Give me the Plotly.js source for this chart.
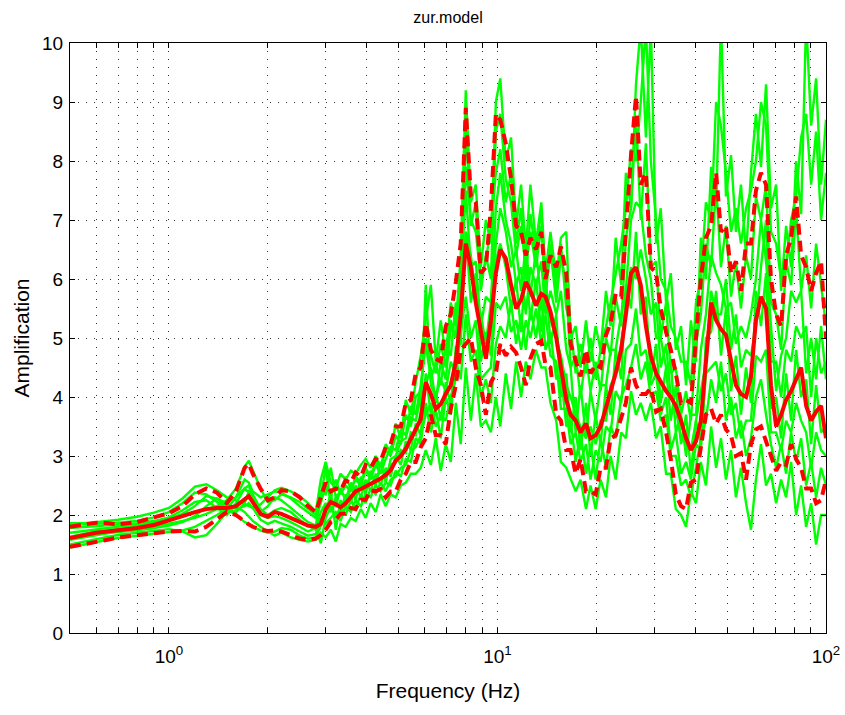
<!DOCTYPE html>
<html>
<head>
<meta charset="utf-8">
<script src="https://cdn.plot.ly/plotly-3.0.1.min.js"></script>
<style>html,body{margin:0;padding:0;background:#fff;}#chart{width:845px;height:715px;}</style>
</head>
<body>
<div id="chart"></div>
<script>
// Frequency (Hz)
const freq = [0.5,0.55,0.6,0.65,0.7,0.8,0.9,1.0,1.1,1.2,1.3,1.4,1.5,1.6,1.7,1.75,1.8,1.9,2.0,2.1,2.2,2.35,2.5,2.65,2.8,2.9,
3.00,3.11,3.22,3.33,3.45,3.58,3.70,3.84,3.97,4.11,
4.26,4.41,4.57,4.73,4.90,5.08,5.26,5.45,5.64,5.84,
6.05,6.27,6.49,6.72,6.96,7.21,7.47,7.73,8.01,8.30,
8.59,8.90,9.22,9.55,9.89,10.2,10.6,11.0,11.4,11.8,
12.2,12.6,13.1,13.6,14.0,14.5,15.1,15.6,16.2,16.7,
17.3,17.9,18.6,19.2,19.9,20.6,21.4,22.1,22.9,23.8,
24.6,25.5,26.4,27.3,28.3,29.3,30.4,31.4,32.6,33.7,
34.9,36.2,37.5,38.8,40.2,41.6,43.1,44.7,46.3,47.9,
49.6,51.4,53.2,55.1,57.1,59.1,61.2,63.4,65.7,68.0,
70.5,73.0,75.6,78.3,81.1,84.0,87.0,90.1,93.3,96.6,100];

// Green: individual amplification curves
const g1 = [1.86,1.86,1.88,1.90,1.92,1.97,2.04,2.12,2.28,2.48,2.52,2.42,2.30,2.25,2.18,2.15,2.12,2.18,2.30,2.42,2.46,2.40,2.32,2.20,2.05,2.60,
2.90,2.55,2.45,2.70,2.60,2.75,2.70,2.85,2.95,2.80,
3.00,2.80,3.20,3.05,3.55,3.30,3.95,3.70,4.25,4.70,
5.30,5.90,4.60,5.30,4.70,5.60,5.20,6.40,9.20,7.30,
7.60,6.20,7.00,6.60,9.00,9.40,8.00,8.40,6.90,7.60,
6.50,7.60,6.60,7.30,6.10,6.80,6.00,6.70,6.80,5.00,
5.20,4.50,5.30,4.60,5.20,4.80,5.80,5.20,6.70,5.90,
7.80,7.20,9.30,10.3,8.40,10.3,6.60,7.20,5.60,6.10,
4.80,5.20,4.20,5.30,4.60,6.70,6.00,7.90,7.20,10.4,
7.40,8.10,6.80,7.60,6.40,7.80,8.80,7.90,9.30,7.20,
7.60,5.80,6.90,6.20,8.00,7.10,10.4,8.60,9.40,7.60,8.70];

const g2 = [1.78,1.80,1.82,1.83,1.84,1.86,1.90,1.95,2.00,2.05,2.10,2.15,2.25,2.45,2.82,2.92,2.75,2.45,2.22,2.25,2.35,2.30,2.22,2.10,2.00,2.40,
2.35,2.80,2.30,2.40,2.65,2.45,2.60,2.50,2.75,2.60,
2.85,2.70,2.95,3.15,3.10,3.45,3.35,3.85,3.70,4.20,
4.90,4.30,4.60,4.20,4.90,4.70,5.60,5.30,8.60,6.90,
7.30,5.80,6.40,6.00,8.50,8.80,7.70,7.30,6.40,6.90,
6.20,6.80,6.20,6.90,5.70,6.50,5.60,6.40,5.90,4.50,
4.70,4.00,4.70,4.10,4.60,4.10,5.00,4.70,5.70,5.20,
6.70,7.20,8.70,7.00,8.30,6.20,6.30,5.00,5.60,4.40,
4.50,3.70,4.10,3.60,4.90,5.40,6.60,6.20,7.60,6.20,
6.90,5.70,6.30,5.50,6.40,6.00,7.40,7.00,7.60,5.60,
5.40,4.80,6.30,5.90,7.20,5.80,6.40,5.50,6.60,5.90,5.20];

const g3 = [1.63,1.68,1.72,1.74,1.76,1.80,1.86,1.92,2.02,2.15,2.32,2.28,2.12,2.05,2.20,2.40,2.35,2.10,2.00,2.08,2.12,2.05,1.92,1.82,1.75,2.05,
2.20,2.05,2.30,2.05,2.35,2.20,2.50,2.30,2.60,2.40,
2.70,2.50,2.80,2.65,3.00,2.85,3.25,3.10,3.55,3.35,
4.40,3.70,4.10,3.60,4.25,3.85,4.85,4.90,6.80,5.60,
6.10,4.60,5.10,4.70,6.30,6.60,6.20,5.50,6.00,5.10,
6.30,5.30,6.00,5.10,6.10,4.90,5.40,4.00,4.40,3.40,
4.00,3.10,3.90,3.00,3.70,3.20,4.20,3.70,4.80,4.30,
5.90,5.50,6.80,5.40,5.70,4.30,4.90,3.90,4.50,3.60,
4.20,3.20,3.70,2.70,3.60,3.20,5.00,5.10,5.80,4.70,
5.50,4.10,4.70,3.70,4.50,3.90,5.80,5.20,6.10,3.80,
4.00,3.30,4.40,3.60,4.80,4.00,4.30,3.20,4.20,3.40,3.50];

const g4 = [1.60,1.64,1.68,1.71,1.73,1.76,1.80,1.85,1.90,1.95,2.02,2.10,2.20,2.30,2.45,2.50,2.30,2.00,1.95,1.98,1.95,1.88,1.80,1.72,1.78,1.52,
1.95,2.15,1.95,2.15,2.00,2.25,2.10,2.35,2.20,2.45,
2.35,2.55,2.40,2.60,2.65,2.80,2.85,3.10,3.15,3.35,
3.70,3.90,3.50,3.70,3.60,4.00,4.30,5.10,5.70,5.00,
5.30,4.30,4.40,4.50,5.60,5.50,5.70,5.10,5.30,4.80,
5.30,5.00,5.50,4.90,5.40,4.70,4.60,3.80,3.80,3.20,
3.40,2.90,3.20,2.60,3.10,2.90,3.50,3.40,4.10,3.90,
4.80,4.90,5.50,4.70,4.80,4.20,4.40,3.70,4.00,3.10,
3.40,2.70,2.90,2.60,3.20,3.10,4.40,4.50,4.60,4.10,
4.40,3.70,3.90,3.30,3.60,3.60,4.70,4.60,4.80,3.40,
3.40,3.10,3.60,3.40,3.90,3.60,3.40,2.80,3.40,3.10,3.00];

const g5 = [1.50,1.55,1.60,1.63,1.66,1.70,1.73,1.76,1.72,1.62,1.66,1.85,2.05,2.15,2.05,1.98,1.90,1.80,1.72,1.65,1.70,1.62,1.58,1.55,1.58,1.70,
1.62,1.75,1.55,1.85,1.80,1.95,1.90,2.10,1.95,2.20,
2.05,2.35,2.15,2.35,2.30,2.50,2.55,2.70,2.70,2.80,
3.10,2.85,3.30,2.75,3.20,2.90,3.90,3.20,4.50,3.60,
4.40,3.50,3.60,3.40,4.00,3.50,4.40,3.80,4.60,4.00,
4.60,4.30,4.80,4.50,4.50,3.90,3.60,2.90,2.80,2.60,
2.40,2.60,2.10,2.50,2.10,2.60,2.30,3.00,2.60,3.40,
3.30,4.10,3.70,3.90,3.60,3.90,3.30,3.50,2.70,2.70,
2.10,2.00,1.80,2.40,2.20,2.90,2.50,3.50,2.80,3.30,
2.60,3.10,2.30,2.80,2.20,1.75,2.60,3.20,2.50,2.70,
2.20,2.60,2.30,2.90,2.00,2.50,1.80,2.20,1.50,2.00,2.00];

const g6 = [1.45,1.50,1.55,1.58,1.61,1.65,1.69,1.71,1.74,1.80,1.90,2.00,2.10,2.00,1.88,1.85,1.80,1.74,1.70,1.72,1.78,1.75,1.65,1.60,1.62,1.80,
2.00,2.40,1.75,2.25,2.10,2.50,2.25,2.65,2.35,2.75,
2.50,2.90,2.55,2.95,3.00,3.25,3.30,3.65,3.60,4.00,
4.20,4.50,3.90,4.60,4.30,5.20,5.00,6.00,7.50,6.20,
6.30,5.20,5.70,5.60,7.20,7.80,7.00,6.60,5.90,6.20,
5.40,6.20,5.90,6.30,5.40,5.80,5.40,5.80,4.80,4.50,
3.40,4.20,3.30,4.10,3.60,4.20,4.20,4.80,4.80,5.40,
5.80,7.00,7.30,7.20,6.40,6.00,5.00,5.00,4.50,4.60,
3.40,3.70,3.00,3.70,3.70,4.80,5.40,6.40,6.10,5.90,
5.50,5.60,4.90,5.20,5.00,5.40,6.00,7.00,6.30,5.20,
4.10,4.70,5.00,5.80,5.60,5.80,4.40,5.00,4.30,5.20,4.30];

const g7 = [1.83,1.84,1.85,1.86,1.87,1.90,1.96,2.05,2.20,2.38,2.35,2.22,2.10,2.30,2.60,2.55,2.40,2.30,2.35,2.40,2.38,2.28,2.15,2.05,1.95,2.20,
2.50,2.30,2.60,2.35,2.50,2.40,2.65,2.55,2.80,2.65,
2.90,2.80,3.10,3.00,3.35,3.20,3.70,3.50,4.00,4.10,
5.00,4.70,4.40,4.90,4.50,5.30,5.00,5.90,7.90,7.00,
6.80,6.00,6.30,6.90,7.80,8.20,7.30,7.80,6.60,7.20,
6.00,7.10,6.40,7.20,5.90,6.60,5.80,6.60,5.50,5.20,
4.40,4.90,4.40,5.00,4.30,4.80,5.20,5.60,6.10,6.60,
7.20,8.20,8.00,9.00,10.3,8.00,7.00,6.00,5.80,5.20,
5.00,4.60,4.60,4.20,5.60,6.00,7.30,7.00,9.00,8.60,
7.80,6.80,7.20,6.60,7.20,7.50,8.00,9.00,8.60,6.80,
6.60,6.00,6.20,7.00,7.40,8.40,8.80,7.60,8.50,7.00,7.80];

const g8 = [1.58,1.62,1.66,1.69,1.71,1.74,1.78,1.82,1.88,1.98,2.15,2.28,2.20,2.10,2.15,2.20,2.12,1.92,1.85,1.90,1.86,1.80,1.72,1.65,1.68,1.95,
1.85,1.95,2.05,1.90,2.15,2.05,2.25,2.15,2.35,2.30,
2.50,2.40,2.55,2.50,2.75,2.65,2.95,2.90,3.30,3.20,
3.90,3.40,3.80,3.30,4.00,3.70,4.60,4.30,5.40,4.60,
4.80,4.00,4.30,3.90,4.90,5.20,5.00,5.60,4.90,5.40,
4.80,5.50,5.00,5.70,4.80,5.10,4.30,4.40,3.50,3.60,
2.90,3.40,2.70,3.20,2.60,3.30,2.80,3.50,3.30,4.00,
4.20,4.50,4.90,4.30,4.60,4.00,4.10,3.60,3.70,3.00,
3.00,2.50,2.60,2.30,2.80,3.30,3.60,4.30,3.90,4.60,
3.60,4.00,3.30,3.60,3.00,3.30,4.00,4.30,3.70,3.20,
2.80,3.20,2.70,3.40,2.90,3.30,2.50,2.90,2.30,2.80,2.50];

const g9 = [1.70,1.73,1.76,1.78,1.80,1.83,1.88,1.96,2.08,2.22,2.25,2.12,2.00,2.20,2.45,2.38,2.20,2.05,2.15,2.30,2.25,2.12,2.00,1.88,1.82,2.30,
2.80,2.20,2.15,2.45,2.25,2.55,2.35,2.50,2.45,2.65,
2.60,2.75,2.70,2.85,2.90,3.10,3.05,3.40,3.35,3.75,
5.90,4.20,4.00,4.30,4.10,4.60,4.40,5.50,6.80,6.40,
5.70,5.40,4.90,5.60,6.60,7.20,6.80,6.20,6.50,5.80,
6.60,5.70,6.50,5.60,5.80,5.30,5.00,4.70,4.20,4.00,
3.70,3.50,3.30,3.50,3.20,3.60,3.60,4.20,4.40,4.90,
5.50,6.20,6.00,6.50,6.00,5.40,5.60,4.50,4.90,4.00,
3.80,3.30,3.20,3.10,3.60,4.10,4.60,5.80,5.40,5.40,
6.00,4.80,5.40,4.50,4.80,4.70,5.20,6.20,7.00,4.60,
4.60,4.00,4.80,4.60,5.20,5.00,5.20,4.00,5.00,4.40,4.60];

// Red: upper (dashed), median (solid), lower (dashed)
const upper = [1.80,1.84,1.87,1.86,1.84,1.88,1.95,2.03,2.15,2.35,2.45,2.38,2.20,2.40,2.80,2.87,2.70,2.45,2.25,2.30,2.42,2.40,2.30,2.15,2.05,2.30,
2.55,2.40,2.45,2.42,2.58,2.55,2.72,2.65,2.85,2.80,
2.95,2.92,3.15,3.20,3.50,3.50,3.90,3.95,4.40,4.50,
5.25,4.80,4.65,4.60,5.20,5.40,5.95,6.60,8.90,7.40,
7.30,6.10,6.20,7.20,8.80,8.70,8.30,7.70,6.90,6.80,
6.40,6.70,6.50,6.80,6.00,6.40,6.20,6.55,6.10,4.90,
4.60,4.35,4.80,4.40,4.55,4.50,5.05,5.25,5.75,5.70,
6.80,8.10,9.10,7.60,7.80,6.20,6.10,5.50,5.10,4.80,
4.40,3.90,3.95,3.90,5.00,6.00,6.70,6.90,7.80,6.80,
6.90,6.10,6.30,5.80,6.60,6.60,7.50,7.80,7.60,6.00,
5.40,5.20,6.40,6.70,7.40,6.40,6.20,5.80,6.10,6.30,5.00];

const median = [1.61,1.66,1.70,1.72,1.74,1.78,1.83,1.90,1.98,2.05,2.10,2.12,2.12,2.15,2.28,2.32,2.22,2.02,1.97,2.05,2.02,1.95,1.88,1.82,1.80,1.85,
2.10,2.22,2.18,2.13,2.20,2.30,2.40,2.44,2.48,2.52,
2.58,2.62,2.68,2.76,2.92,3.00,3.12,3.28,3.45,3.62,
4.25,4.05,3.80,3.88,4.05,4.20,4.60,5.40,6.60,6.20,
5.60,5.10,4.65,5.30,6.10,6.50,6.35,5.90,5.50,5.65,
5.95,5.80,5.55,5.75,5.70,5.45,5.00,4.50,3.95,3.70,
3.60,3.40,3.55,3.30,3.35,3.50,3.80,4.10,4.40,4.80,
5.40,6.10,6.20,5.90,5.20,4.70,4.40,4.25,4.10,4.00,
3.85,3.60,3.30,3.10,3.25,3.60,4.60,5.60,5.30,5.15,
5.05,4.60,4.20,4.05,4.00,4.35,5.30,5.70,5.50,4.20,
3.50,3.70,3.95,4.10,4.30,4.50,3.85,3.60,3.75,3.85,3.30];

const lower = [1.46,1.50,1.55,1.58,1.62,1.66,1.70,1.72,1.73,1.72,1.80,1.92,2.05,2.00,1.88,1.84,1.80,1.75,1.73,1.74,1.72,1.65,1.60,1.58,1.60,1.66,
1.75,1.88,1.92,2.02,2.02,2.12,2.10,2.26,2.26,2.42,
2.40,2.44,2.30,2.40,2.40,2.60,2.70,2.90,2.90,3.15,
3.30,3.70,3.35,3.35,3.20,3.80,4.20,4.80,4.90,5.00,
4.50,4.20,3.70,4.25,4.40,4.90,4.70,4.85,4.75,4.50,
4.20,4.65,4.90,4.95,4.55,4.50,3.70,3.60,3.10,3.10,
2.70,2.95,2.40,2.40,2.35,2.80,2.80,3.30,3.35,3.65,
3.90,4.50,4.20,4.05,4.05,4.15,3.75,3.80,3.40,2.95,
2.35,2.15,2.10,2.55,2.60,3.15,3.70,3.80,3.55,3.70,
3.45,3.35,3.00,3.05,2.60,3.20,3.45,3.50,3.25,3.00,
2.75,2.90,2.85,3.20,2.95,2.80,2.45,2.45,2.20,2.25,2.60];

// Axis ticks
const xTickVals = [0.5,0.6,0.7,0.8,0.9,1,2,3,4,5,6,7,8,9,10,20,30,40,50,60,70,80,90,100];
const xTickText = ['','','','','','10<sup>0</sup>','','','','','','','','','10<sup>1</sup>','','','','','','','','','10<sup>2</sup>'];
const yTickVals = [0,1,2,3,4,5,6,7,8,9,10];

const FONT = 'Liberation Sans, Arial, Helvetica, sans-serif';
const traces = [];
[g1,g2,g3,g4,g5,g6,g7,g8,g9].forEach(function(g){
  traces.push({x: freq, y: g, type:'scatter', mode:'lines',
    line:{color:'#00ff00', width:2.4}, hoverinfo:'skip'});
});
traces.push({x: freq, y: upper, type:'scatter', mode:'lines',
  line:{color:'#ff0000', width:4, dash:'11px,6px'}});
traces.push({x: freq, y: lower, type:'scatter', mode:'lines',
  line:{color:'#ff0000', width:4, dash:'11px,6px'}});
traces.push({x: freq, y: median, type:'scatter', mode:'lines',
  line:{color:'#ff0000', width:4}});

const layout = {
  width: 845, height: 715,
  margin: {l:70, r:19, t:43, b:82, pad:0},
  paper_bgcolor:'#ffffff', plot_bgcolor:'#ffffff',
  showlegend:false,
  font:{family:FONT, color:'#000', size:19},
  title:{text:'zur.model', font:{family:FONT, size:16, color:'#000'},
    x:0.5, xref:'paper', xanchor:'center', y:1-17/715, yref:'container', yanchor:'middle'},
  xaxis:{type:'log', range:[Math.log10(0.5), 2], tickmode:'array',
    tickvals:xTickVals, ticktext:xTickText, ticks:'inside', ticklen:5, tickwidth:1, tickcolor:'#000',
    showline:true, linecolor:'#000', linewidth:1, mirror:'ticks',
    showgrid:true, gridcolor:'#333', gridwidth:1, griddash:'1px,7px', zeroline:false,
    tickfont:{family:FONT, size:19, color:'#000'}, ticklabelstandoff:6,
    title:{text:'Frequency (Hz)', font:{family:FONT, size:21, color:'#000'}, standoff:17}},
  yaxis:{range:[0,10], tickmode:'array', tickvals:yTickVals, ticks:'inside', ticklen:5, tickwidth:1,
    tickcolor:'#000', showline:true, linecolor:'#000', linewidth:1, mirror:'ticks',
    showgrid:true, gridcolor:'#333', gridwidth:1, griddash:'1px,7px', zeroline:false,
    tickfont:{family:FONT, size:19, color:'#000'}, ticklabelstandoff:2,
    title:{text:'Amplification', font:{family:FONT, size:21, color:'#000'}, standoff:6}}
};

Plotly.newPlot('chart', traces, layout, {staticPlot:true, displayModeBar:false});
</script>
</body>
</html>
